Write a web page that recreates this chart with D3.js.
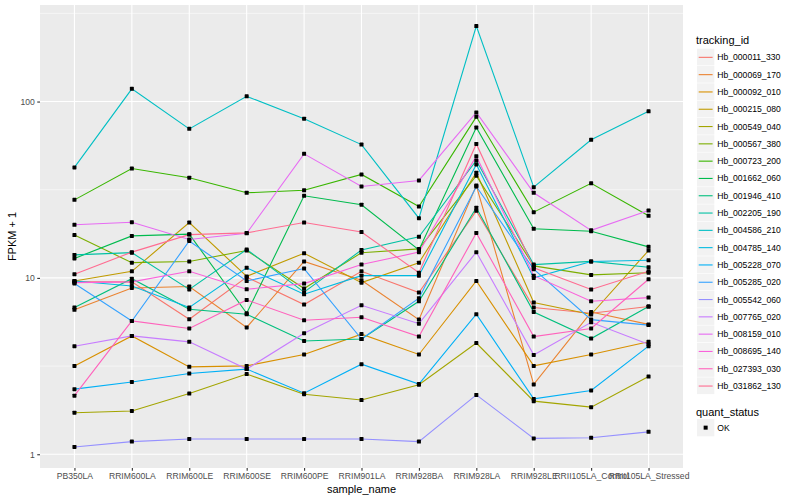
<!DOCTYPE html>
<html>
<head>
<meta charset="utf-8">
<script src="https://cdn.jsdelivr.net/npm/d3@7"></script>
<style>
  body { margin: 0; background: #fff; }
  svg { display: block; font-family: "Liberation Sans", Arial, Helvetica, sans-serif; }
</style>
</head>
<body>
<svg id="chart" width="800" height="500"></svg>
<script>
// ---------- data ----------
const categories = ["PB350LA", "RRIM600LA", "RRIM600LE", "RRIM600SE", "RRIM600PE", "RRIM901LA",
  "RRIM928BA", "RRIM928LA", "RRIM928LE", "RRII105LA_Control", "RRII105LA_Stressed"];

const trackingIds = ["Hb_000011_330", "Hb_000069_170", "Hb_000092_010", "Hb_000215_080", "Hb_000549_040",
  "Hb_000567_380", "Hb_000723_200", "Hb_001662_060", "Hb_001946_410", "Hb_002205_190", "Hb_004586_210",
  "Hb_004785_140", "Hb_005228_070", "Hb_005285_020", "Hb_005542_060", "Hb_007765_020", "Hb_008159_010",
  "Hb_008695_140", "Hb_027393_030", "Hb_031862_130"];

// FPKM + 1 values, one array per tracking_id, in category order
const hb_000011_330 = [9.5, 9.5, 5.83, 10.1, 7.06, 10.9, 8.26, 24, 6.8, 6.3, 6.88];
const hb_000069_170 = [6.6, 8.77, 8.93, 5.24, 12.4, 9.7, 5.8, 33.4, 2.49, 6.4, 5.45];
const hb_000092_010 = [3.17, 4.69, 3.13, 3.17, 3.68, 4.8, 3.68, 9.6, 3.17, 3.68, 4.34];
const hb_000215_080 = [9.6, 10.9, 20.6, 10.2, 13.8, 9.4, 12.2, 39.5, 7.25, 6.2, 14.3];
const hb_000549_040 = [1.72, 1.76, 2.21, 2.85, 2.19, 2.03, 2.48, 4.27, 2.0, 1.85, 2.76];
const hb_000567_380 = [17.5, 12.2, 12.4, 14.3, 8.7, 13.9, 14.6, 38, 11.7, 10.4, 10.7];
const hb_000723_200 = [27.7, 41.7, 37, 30.4, 31.4, 38.6, 25.4, 81.9, 23.6, 34.4, 22.5];
const hb_001662_060 = [12.9, 17.3, 17.7, 6.3, 29.2, 26, 14.4, 71.2, 19, 18.4, 15];
const hb_001946_410 = [6.8, 9.9, 6.64, 6.22, 4.39, 4.5, 7.37, 25, 6.41, 4.53, 6.88];
const hb_002205_190 = [13.5, 13.9, 8.6, 14.5, 8.3, 14.4, 17.1, 46.3, 11.9, 12.4, 11.5];
const hb_004586_210 = [42.3, 118, 70, 107, 80, 57, 21.8, 268, 32.7, 60.7, 88];
const hb_004785_140 = [9.6, 9.0, 6.8, 11.4, 8.08, 10.3, 10.3, 44, 10.0, 12.4, 12.6];
const hb_005228_070 = [2.34, 2.57, 2.87, 3.04, 2.22, 3.24, 2.5, 6.22, 2.06, 2.30, 4.1];
const hb_005285_020 = [9.3, 5.7, 16.2, 9.6, 11.3, 4.5, 7.67, 33, 11.2, 5.8, 5.4];
const hb_005542_060 = [1.10, 1.18, 1.22, 1.22, 1.22, 1.22, 1.18, 2.17, 1.23, 1.24, 1.34];
const hb_007765_020 = [4.1, 4.69, 4.34, 3.04, 4.86, 7.0, 5.5, 14, 3.66, 5.6, 4.2];
const hb_008159_010 = [20, 20.7, 16.5, 17.9, 50.5, 33, 35.7, 86.7, 30.4, 18.6, 24.1];
const hb_008695_140 = [9.4, 9.5, 10.9, 8.62, 9.28, 11.9, 14, 49, 10.3, 7.37, 7.73];
const hb_027393_030 = [2.15, 5.7, 5.17, 7.5, 5.75, 5.98, 4.65, 18, 4.65, 5.17, 9.82];
const hb_031862_130 = [10.5, 14, 17.6, 18, 20.6, 18.2, 10.7, 57.5, 11.4, 8.59, 10.9];

const seriesValues = [hb_000011_330, hb_000069_170, hb_000092_010, hb_000215_080, hb_000549_040,
  hb_000567_380, hb_000723_200, hb_001662_060, hb_001946_410, hb_002205_190, hb_004586_210,
  hb_004785_140, hb_005228_070, hb_005285_020, hb_005542_060, hb_007765_020, hb_008159_010,
  hb_008695_140, hb_027393_030, hb_031862_130];

const yTickValues = [1, 10, 100];
const yTickLabels = ["1", "10", "100"];
const quantStatus = ["OK"];

// ---------- layout ----------
const svg = d3.select("#chart");
const panel = { left: 40, right: 683, top: 5, bottom: 468 };

const series = trackingIds.map((id, i) => ({
  id, values: seriesValues[i].map((v, j) => ({ cat: categories[j], v }))
}));

// discrete x scale with ggplot-like 0.6 expansion
const x = d3.scalePoint().domain(categories)
  .range([panel.left, panel.right]).padding(0.6);

// log y scale with 5% expansion in log space
const allVals = seriesValues.flat();
const lmin = Math.log10(d3.min(allVals)), lmax = Math.log10(d3.max(allVals));
const ex = (lmax - lmin) * 0.05;
const y = d3.scaleLog().domain([Math.pow(10, lmin - ex), Math.pow(10, lmax + ex)])
  .range([panel.bottom, panel.top]);

const color = d3.scaleOrdinal().domain(trackingIds).range([
  "#F8766D", "#EA8331", "#D89000", "#C09B00", "#A3A500", "#7CAE00", "#39B600", "#00BB4E",
  "#00BF7D", "#00C1A3", "#00BFC4", "#00BAE0", "#00B0F6", "#35A2FF", "#9590FF", "#C77CFF",
  "#E76BF3", "#FA62DB", "#FF62BC", "#FF6C91"]);

// panel background
svg.append("rect").attr("x", panel.left).attr("y", panel.top)
  .attr("width", panel.right - panel.left).attr("height", panel.bottom - panel.top)
  .attr("fill", "#EBEBEB");

// minor gridlines (midpoints in log space)
const minor = [Math.pow(10, 0.5), Math.pow(10, 1.5), Math.pow(10, 2.5)];
svg.append("g").selectAll("line").data(minor).join("line")
  .attr("x1", panel.left).attr("x2", panel.right)
  .attr("y1", d => y(d)).attr("y2", d => y(d))
  .attr("stroke", "#fff").attr("stroke-width", 0.55);

// major gridlines
svg.append("g").selectAll("line").data(yTickValues).join("line")
  .attr("x1", panel.left).attr("x2", panel.right)
  .attr("y1", d => y(d)).attr("y2", d => y(d))
  .attr("stroke", "#fff").attr("stroke-width", 1.1);
svg.append("g").selectAll("line").data(categories).join("line")
  .attr("x1", d => x(d)).attr("x2", d => x(d))
  .attr("y1", panel.top).attr("y2", panel.bottom)
  .attr("stroke", "#fff").attr("stroke-width", 1.1);

// lines
const line = d3.line().x(d => x(d.cat)).y(d => y(d.v));
svg.append("g").selectAll("path").data(series).join("path")
  .attr("d", d => line(d.values))
  .attr("fill", "none")
  .attr("stroke", d => color(d.id))
  .attr("stroke-width", 1.1);

// points
const pts = series.flatMap(s => s.values);
svg.append("g").selectAll("rect").data(pts).join("rect")
  .attr("x", d => x(d.cat) - 2).attr("y", d => y(d.v) - 2)
  .attr("width", 4).attr("height", 4).attr("rx", 0.6).attr("fill", "#000");

// axes
const xAxis = d3.axisBottom(x).tickSize(2.75).tickPadding(2.5);
const gx = svg.append("g").attr("transform", `translate(0,${panel.bottom})`).call(xAxis);
const yAxis = d3.axisLeft(y).tickValues(yTickValues)
  .tickFormat((d, i) => yTickLabels[i]).tickSize(2.75).tickPadding(2.5);
const gy = svg.append("g").attr("transform", `translate(${panel.left},0)`).call(yAxis);
[gx, gy].forEach(g => {
  g.select(".domain").remove();
  g.selectAll(".tick line").attr("stroke", "#333333").attr("stroke-width", 1.1);
  g.selectAll(".tick text").attr("fill", "#4D4D4D").style("font-size", "8.6px")
    .style("font-family", "'Liberation Sans', Arial, sans-serif");
});

// axis titles
svg.append("text").attr("x", (panel.left + panel.right) / 2).attr("y", 493)
  .attr("text-anchor", "middle").style("font-size", "11px").attr("fill", "#000")
  .text("sample_name");
svg.append("text").attr("transform", `translate(16,${(panel.top + panel.bottom) / 2}) rotate(-90)`)
  .attr("text-anchor", "middle").style("font-size", "11px").attr("fill", "#000")
  .text("FPKM + 1");

// legend: tracking_id
const lg = svg.append("g");
const keyX = 697, keyTop = 48.7, keyH = 17.3, keyW = 17.3;
lg.append("text").attr("x", 696).attr("y", 44).style("font-size", "11px").text("tracking_id");
const items = lg.selectAll("g.item").data(trackingIds).join("g")
  .attr("transform", (d, i) => `translate(${keyX},${keyTop + i * keyH})`);
items.append("rect").attr("width", keyW).attr("height", keyH - 0.6).attr("fill", "#F2F2F2");
items.append("line").attr("x1", 1.7).attr("x2", keyW - 1.7)
  .attr("y1", keyH / 2).attr("y2", keyH / 2)
  .attr("stroke", d => color(d)).attr("stroke-width", 1.1);
items.append("text").attr("x", keyW + 3).attr("y", keyH / 2 + 3)
  .style("font-size", "8.6px").text(d => d);

// legend: quant_status
const lg2 = svg.append("g");
lg2.append("text").attr("x", 696).attr("y", 416).style("font-size", "11px").text("quant_status");
const q = lg2.selectAll("g.q").data(quantStatus).join("g")
  .attr("transform", (d, i) => `translate(${keyX},${419 + i * keyH})`);
q.append("rect").attr("width", keyW).attr("height", keyH).attr("fill", "#F2F2F2");
q.append("rect").attr("x", keyW / 2 - 2).attr("y", keyH / 2 - 2).attr("width", 4).attr("height", 4).attr("fill", "#000");
q.append("text").attr("x", keyW + 3).attr("y", keyH / 2 + 3).style("font-size", "8.6px").text(d => d);
</script>
</body>
</html>
